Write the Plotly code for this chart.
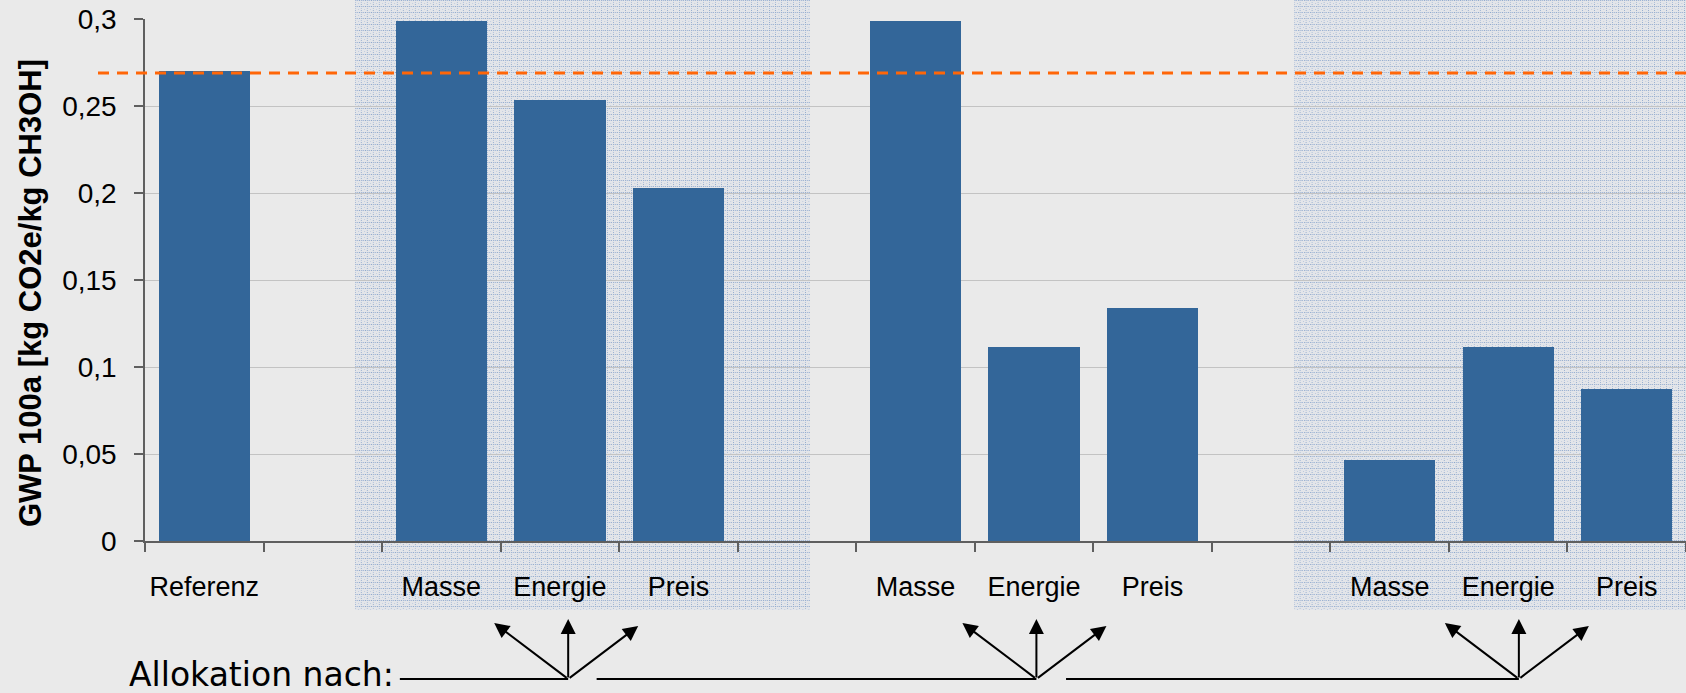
import base64
import plotly.graph_objects as go

# ---------------- data ----------------
SLOT_LABELS = ["Referenz", "", "Masse", "Energie", "Preis", "",
               "Masse", "Energie", "Preis", "", "Masse", "Energie", "Preis"]
GWP_VALUES = [0.2703, None, 0.2990, 0.2536, 0.2031, None,
              0.2990, 0.1117, 0.1340, None, 0.0467, 0.1117, 0.0875]
REFERENCE_VALUE = 0.269
Y_TICKS = [0, 0.05, 0.1, 0.15, 0.2, 0.25, 0.3]
Y_TITLE = "GWP 100a [kg CO2e/kg CH3OH]"
ANNOT_TEXT = "Allokation nach:"

# ---------------- layout geometry ----------------
W, H = 1686, 693
ML, MR, MT, MB = 145, 0, 19, 152
PW, PH = W - ML - MR, H - MT - MB
X_RANGE = [-0.5, len(SLOT_LABELS) - 0.5]
Y_RANGE = [0, 0.3]

# shaded group backgrounds (in category units)
SHADE_SPANS = [(1.27, 5.11), (9.19, 12.5)]
SHADE_BOTTOM_PX = 69        # how far below the x axis the shading reaches
# arrow fan origins (category units) and line segments
ARROW_X = [3.07, 7.02, 11.09]
LINE_SEGMENTS = [(1.65, 3.07), (3.31, 7.02), (7.27, 11.09)]

BAR_COLOR = "#336699"
AXIS_COLOR = "#5f5f5f"
BG = "#eaeaea"


def xp(x):
    return (x - X_RANGE[0]) / (X_RANGE[1] - X_RANGE[0])


def yp(y):
    return (y - Y_RANGE[0]) / (Y_RANGE[1] - Y_RANGE[0])


def px_to_py(dpx):
    """vertical pixel offset (downwards from x axis) -> paper units"""
    return -dpx / PH


def pattern_uri(wpx, hpx):
    svg = (
        f'<svg xmlns="http://www.w3.org/2000/svg" width="{wpx}" height="{hpx}" '
        f'viewBox="0 0 {wpx} {hpx}" shape-rendering="crispEdges">'
        '<defs><pattern id="p" width="6" height="6" patternUnits="userSpaceOnUse">'
        '<rect width="6" height="6" fill="#e3e5e9"/>'
        '<rect x="0" y="0" width="1" height="1" fill="#8ea8cc"/>'
        '<rect x="2" y="0" width="1" height="1" fill="#a8bbd8"/>'
        '<rect x="4" y="0" width="1" height="1" fill="#8ea8cc"/>'
        '<rect x="0" y="2" width="1" height="1" fill="#a8bbd8"/>'
        '<rect x="0" y="4" width="1" height="1" fill="#8ea8cc"/>'
        '<rect x="3" y="3" width="1" height="1" fill="#bccadf"/>'
        '</pattern></defs>'
        f'<rect width="{wpx}" height="{hpx}" fill="url(#p)"/></svg>'
    )
    return "data:image/svg+xml;base64," + base64.b64encode(svg.encode()).decode()


xs = [i for i, v in enumerate(GWP_VALUES) if v is not None]
ys = [v for v in GWP_VALUES if v is not None]

fig = go.Figure()
fig.add_trace(go.Bar(
    x=xs, y=ys, width=0.77,
    marker=dict(color=BAR_COLOR, line=dict(width=0)),
    hoverinfo="skip",
))

# shaded backgrounds as pattern images
images = []
top_paper = 1 + MT / PH
bottom_paper = px_to_py(SHADE_BOTTOM_PX)
for x0, x1 in SHADE_SPANS:
    wpx = round((xp(x1) - xp(x0)) * PW)
    hpx = round((top_paper - bottom_paper) * PH)
    images.append(dict(
        source=pattern_uri(wpx, hpx), xref="paper", yref="paper",
        x=xp(x0), y=top_paper, sizex=xp(x1) - xp(x0),
        sizey=top_paper - bottom_paper, xanchor="left", yanchor="top",
        sizing="stretch", layer="below",
    ))

shapes = []
# reference dashed line
shapes.append(dict(
    type="line", xref="paper", yref="paper",
    x0=-47 / PW, x1=1, y0=yp(REFERENCE_VALUE), y1=yp(REFERENCE_VALUE),
    line=dict(color="#ff6608", width=3, dash="11px,8px"), layer="above",
))
# horizontal connector lines
apex_y = px_to_py(138)
for a, b in LINE_SEGMENTS:
    shapes.append(dict(
        type="line", xref="paper", yref="paper",
        x0=xp(a), x1=xp(b), y0=apex_y, y1=apex_y,
        line=dict(color="black", width=2),
    ))

annotations = []
# arrows: (tip dx px, tip dy px above apex)
ARROW_TIPS = [(-74, 56), (0, 60), (70, 53)]
for ax0 in ARROW_X:
    for dx, dy in ARROW_TIPS:
        annotations.append(dict(
            x=ax0 + dx / (PW / len(SLOT_LABELS)), y=apex_y + dy / PH,
            xref="x", yref="paper", text="", showarrow=True,
            ax=-dx, ay=dy, axref="pixel", ayref="pixel",
            arrowhead=2, arrowsize=1.5, arrowwidth=2, arrowcolor="black",
            standoff=0, startstandoff=0,
        ))
annotations.append(dict(
    x=-18 / PW, y=px_to_py(133), xref="paper", yref="paper",
    text=ANNOT_TEXT, showarrow=False, xanchor="left", yanchor="middle",
    font=dict(family="DejaVu Sans", size=33, color="black"),
))
# y axis title (placed slightly below plot centre like the reference)
annotations.append(dict(
    x=-115 / PW, y=(PH - 274) / PH, xref="paper", yref="paper",
    text=f"<b>{Y_TITLE}</b>", showarrow=False, textangle=-90,
    xanchor="center", yanchor="middle",
    font=dict(family="Liberation Sans, Arial", size=31, color="black"),
))

fig.update_layout(
    width=W, height=H,
    margin=dict(l=ML, r=MR, t=MT, b=MB, pad=0),
    paper_bgcolor=BG, plot_bgcolor="rgba(0,0,0,0)",
    separators=",.",
    showlegend=False,
    bargap=0,
    font=dict(family="Liberation Sans, Arial", color="black"),
    images=images, shapes=shapes, annotations=annotations,
)
fig.update_xaxes(
    range=X_RANGE, tickmode="array",
    tickvals=[i for i, l in enumerate(SLOT_LABELS) if l],
    ticktext=[l for l in SLOT_LABELS if l],
    ticks="", showgrid=False, zeroline=False,
    showline=True, linecolor=AXIS_COLOR, linewidth=1.5,
    tickfont=dict(size=27, family="Liberation Sans, Arial", color="black"),
    ticklabelstandoff=21,
    minor=dict(tickmode="array", tickvals=[i - 0.5 for i in range(len(SLOT_LABELS) + 1)],
               ticks="outside", ticklen=9, tickwidth=1.5, tickcolor=AXIS_COLOR,
               showgrid=False),
)
fig.update_yaxes(
    range=Y_RANGE, tickmode="array", tickvals=Y_TICKS,
    ticks="outside", ticklen=9, tickwidth=1.5, tickcolor=AXIS_COLOR,
    showline=True, linecolor=AXIS_COLOR, linewidth=1.5,
    showgrid=True, gridcolor="#c3c3c3", gridwidth=1.2, zeroline=False,
    tickfont=dict(size=28, family="Liberation Sans, Arial", color="black"),
    ticklabelstandoff=12,
)

fig.write_html(
    "out.html",
    config={"displayModeBar": False},
    post_script="document.body.style.margin='0px';"
                "document.body.style.background='#eaeaea';",
)
